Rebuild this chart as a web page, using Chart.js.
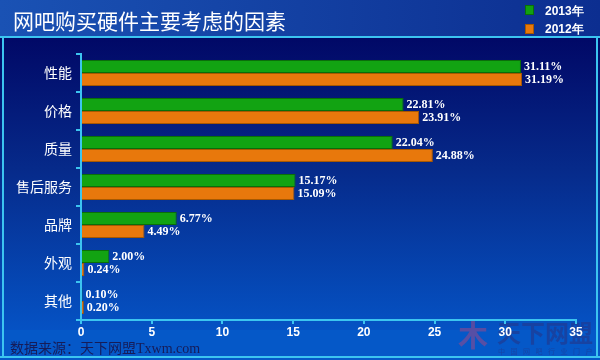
<!DOCTYPE html>
<html><head><meta charset="utf-8">
<script src="https://cdn.jsdelivr.net/npm/chart.js@4.4.0/dist/chart.umd.min.js"></script>
<style>
html,body{margin:0;padding:0;background:#0a3aa0;}
#wrap{position:relative;width:600px;height:360px;overflow:hidden;}
#c{position:absolute;left:0;top:0;}
.t{position:absolute;color:#fff;white-space:nowrap;}
#title{left:13px;top:6px;font:21px "Noto Sans CJK SC",sans-serif;line-height:28px;}
.lg{position:absolute;left:525px;width:9px;height:10px;}
.lt{left:545px;font:bold 12px "Liberation Sans",Arial,sans-serif;line-height:14px;}
#src{left:10px;top:339px;font:14px "Liberation Serif","Noto Sans CJK SC",serif;color:#161c58;line-height:20px;}
</style></head>
<body><div id="wrap">
<canvas id="c" width="600" height="360"></canvas>
<div class="t" id="title">网吧购买硬件主要考虑的因素</div>
<div class="lg" style="top:5px;background:#12a012;border:1px solid #0a700a;box-sizing:border-box;"></div>
<div class="lg" style="top:24px;background:#e8780c;border:1px solid #a85800;box-sizing:border-box;"></div>
<div class="t lt" style="top:4px;">2013年</div>
<div class="t lt" style="top:22px;">2012年</div>
<div class="t" id="src">数据来源：天下网盟Txwm.com</div>
</div>
<script>
const categories = ['性能','价格','质量','售后服务','品牌','外观','其他'];
const series2013 = [31.11, 22.81, 22.04, 15.17, 6.77, 2.00, 0.10];
const series2012 = [31.19, 23.91, 24.88, 15.09, 4.49, 0.24, 0.20];
const seriesNames = ['2013年','2012年'];
const xTicks = [0,5,10,15,20,25,30,35];

const bgPlugin = {
  id:'bg',
  beforeDraw(chart){
    const ctx = chart.ctx;
    ctx.save();
    let g = ctx.createLinearGradient(0,0,600,0);
    g.addColorStop(0,'#1a52b4'); g.addColorStop(1,'#0c2e90');
    ctx.fillStyle = g; ctx.fillRect(0,0,600,37);
    g = ctx.createLinearGradient(0,37,0,330);
    g.addColorStop(0,'#010866'); g.addColorStop(0.45,'#062a8a'); g.addColorStop(1,'#0552c4');
    ctx.fillStyle = g; ctx.fillRect(0,37,600,293);
    ctx.fillStyle = '#0558c8'; ctx.fillRect(0,330,600,30);
    ctx.strokeStyle = '#3cc4f0'; ctx.lineWidth = 2;
    ctx.beginPath();
    ctx.moveTo(0,37); ctx.lineTo(600,37);
    ctx.moveTo(3,37); ctx.lineTo(3,357);
    ctx.moveTo(597,37); ctx.lineTo(597,357);
    ctx.moveTo(0,357); ctx.lineTo(600,357);
    ctx.stroke();
    // watermark behind the axes
    ctx.textBaseline = 'top';
    ctx.fillStyle = 'rgba(170,70,130,0.5)';
    ctx.font = 'bold 30px "Noto Sans CJK SC", sans-serif';
    ctx.fillText('木', 458, 320);
    ctx.fillStyle = 'rgba(30,60,150,0.75)';
    ctx.font = 'bold 24px "Noto Sans CJK SC", sans-serif';
    ctx.fillText('天下网盟', 497, 321);
    ctx.font = '7px "Noto Sans CJK SC", sans-serif';
    ctx.fillStyle = 'rgba(30,60,150,0.7)';
    const sub = '中国网吧行业门户';
    for (let i = 0; i < sub.length; i++) ctx.fillText(sub[i], 498 + i*12.5, 348);
    ctx.restore();
  }
};

const labelPlugin = {
  id:'vals',
  afterDatasetsDraw(chart){
    const ctx = chart.ctx;
    ctx.save();
    ctx.font = 'bold 12px "Liberation Serif", serif';
    ctx.fillStyle = '#ffffff';
    ctx.textBaseline = 'middle';
    chart.data.datasets.forEach((ds,i)=>{
      chart.getDatasetMeta(i).data.forEach((bar,j)=>{
        ctx.fillText(ds.data[j].toFixed(2)+'%', bar.x+3, bar.y+0.5);
      });
    });
    ctx.restore();
  }
};

new Chart(document.getElementById('c'), {
  type:'bar',
  data:{
    labels:categories,
    datasets:[
      {label:seriesNames[0], data:series2013, backgroundColor:'#12a312', borderColor:'#0a6e0a', borderWidth:1},
      {label:seriesNames[1], data:series2012, backgroundColor:'#e8780c', borderColor:'#a85800', borderWidth:1}
    ]
  },
  options:{
    indexAxis:'y',
    responsive:false,
    animation:false,
    layout:{padding:{left:0,top:54,right:24,bottom:0}},
    datasets:{bar:{categoryPercentage:0.68, barPercentage:1}},
    plugins:{legend:{display:false}, title:{display:false}, tooltip:{enabled:false}},
    scales:{
      x:{
        min:0,max:35,
        afterBuildTicks(s){ s.ticks = xTicks.map(v=>({value:v})); },
        afterFit(s){ s.height = 40; },
        grid:{drawOnChartArea:false, drawTicks:true, tickLength:4, color:'#3cc4f0', lineWidth:2},
        border:{color:'#3cc4f0', width:2},
        ticks:{color:'#ffffff', padding:1, font:{family:'"Liberation Sans", Arial, sans-serif', size:12, weight:'bold'}}
      },
      y:{
        afterFit(s){ s.width = 81; },
        grid:{drawOnChartArea:false, drawTicks:true, tickLength:5, color:'#3cc4f0', lineWidth:2, offset:true},
        border:{color:'#3cc4f0', width:2},
        ticks:{color:'#ffffff', padding:4, font:{family:'"Noto Sans CJK SC", sans-serif', size:14}}
      }
    }
  },
  plugins:[bgPlugin, labelPlugin]
});
</script>
</body></html>
